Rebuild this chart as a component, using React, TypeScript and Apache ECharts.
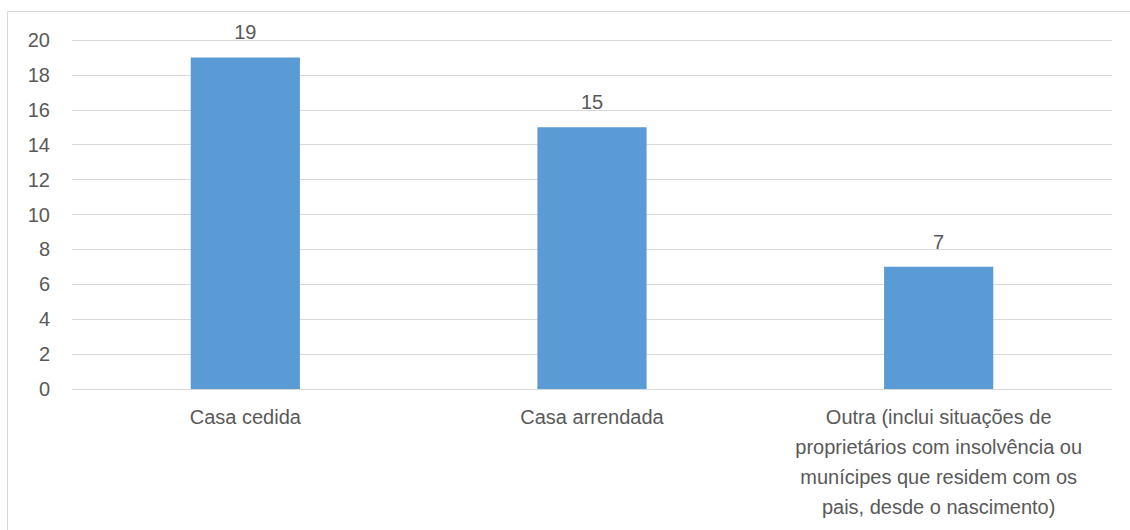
import React, { useEffect, useRef } from "react";
import * as echarts from "echarts";

const categories = [
  "Casa cedida",
  "Casa arrendada",
  "Outra (inclui situações de\nproprietários com insolvência ou\nmunícipes que residem com os\npais, desde o nascimento)",
];
const values = [19, 15, 7];
const yMin = 0;
const yMax = 20;
const yStep = 2;

const FONT = "'Liberation Sans', Arial, sans-serif";
const TEXT = "#595959";

export default function App() {
  const ref = useRef<HTMLDivElement>(null);
  useEffect(() => {
    if (!ref.current) return;
    const chart = echarts.init(ref.current, undefined, { renderer: "svg" });
    chart.setOption({
      animation: false,
      backgroundColor: "#ffffff",
      textStyle: { fontFamily: FONT },
      graphic: [
        {
          type: "rect",
          shape: { x: 7.5, y: 11.5, width: 1300, height: 700 },
          style: { fill: "none", stroke: "#D9D9D9", lineWidth: 1 },
          silent: true,
          z: -1,
        },
      ],
      grid: { left: 72, right: 18, top: 40, bottom: 141, containLabel: false },
      xAxis: {
        type: "category",
        data: categories,
        axisLine: { show: true, lineStyle: { color: "#D9D9D9", width: 1 } },
        axisTick: { show: false },
        axisLabel: {
          color: TEXT,
          fontSize: 20,
          fontFamily: FONT,
          lineHeight: 30,
          margin: 13,
          interval: 0,
          align: "center",
        },
      },
      yAxis: {
        type: "value",
        min: yMin,
        max: yMax,
        interval: yStep,
        axisLine: { show: false },
        axisTick: { show: false },
        splitLine: { lineStyle: { color: "#D9D9D9", width: 1 } },
        axisLabel: { color: TEXT, fontSize: 20, fontFamily: FONT, margin: 22 },
      },
      series: [
        {
          type: "bar",
          data: values,
          barWidth: "31.5%",
          itemStyle: { color: "#5B9BD5" },
          label: {
            show: true,
            position: "top",
            distance: 15,
            color: TEXT,
            fontSize: 20,
            fontFamily: FONT,
          },
        },
      ],
    });
    return () => chart.dispose();
  }, []);
  return (
    <div
      ref={ref}
      style={{ position: "fixed", left: 0, top: 0, width: 1130, height: 530 }}
    />
  );
}
